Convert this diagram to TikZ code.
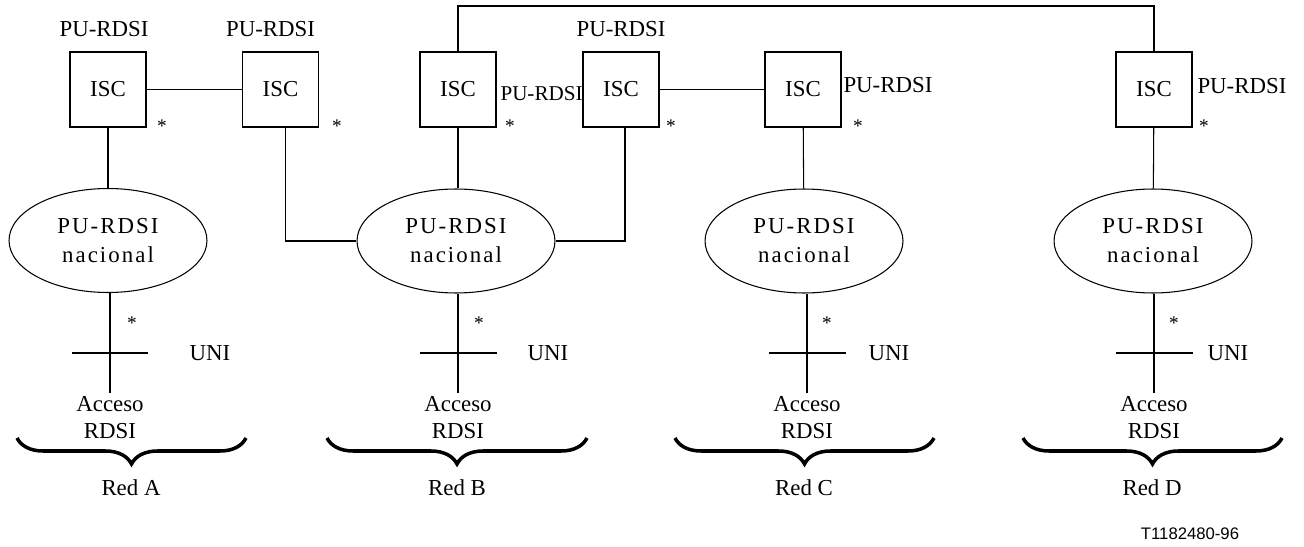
\documentclass[tikz,border=0pt]{standalone}
\usepackage{fontspec}
\setmainfont{Liberation Serif}
\newfontfamily\tagfont{Liberation Sans}
\usepackage{tikz}
\usetikzlibrary{positioning}
\usetikzlibrary{shapes.geometric}
\usetikzlibrary{decorations.pathreplacing}

\begin{document}
\begin{tikzpicture}[
		  x=0.02cm, y=-0.02cm,
		  every path/.style = {line width=0.6pt},
		  iscbox/.style = {draw, minimum width=1.52cm, minimum height=1.5cm, inner sep=0pt, font=\fontsize{13}{15}\selectfont},
		  nacnode/.style = {draw, ellipse, minimum width=3.96cm, minimum height=2.08cm, inner sep=0pt, align=center,
		    font=\fontsize{13}{16.5}\selectfont\addfontfeature{LetterSpace=9}},
		  lbl/.style = {inner sep=0pt, font=\fontsize{13}{15}\selectfont},
		  smalllbl/.style = {inner sep=0pt, font=\fontsize{12}{14}\selectfont},
		  ast/.style = {inner sep=0pt, font=\fontsize{11}{13}\selectfont},
		  acceso/.style = {inner sep=0pt, align=center, font=\fontsize{13}{15.3}\selectfont},
		  unibar/.style = {line width=1.3pt},
		  brc/.style = {line width=2pt, decorate, decoration={brace, mirror, amplitude=0.52cm}}
		]

		  \useasboundingbox (0,0) rectangle (1304,547);

		  \node[iscbox] (iscA) at (108,89.5) {ISC};
		  \node[iscbox] (iscAb) at (280.5,89.5) {ISC};
		  \node[iscbox] (iscB) at (458,89.5) {ISC};
		  \node[iscbox] (iscBb) at (621,89.5) {ISC};
		  \node[iscbox] (iscC) at (803,89.5) {ISC};
		  \node[iscbox] (iscD) at (1154,89.5) {ISC};

		  \node[lbl, above=8pt of iscA, xshift=-0.08cm] (puA) {PU-RDSI};
		  \node[lbl, above=8pt of iscAb, xshift=-0.2cm] (puAb) {PU-RDSI};
		  \node[lbl, above=8pt of iscBb] (puBb) {PU-RDSI};
		  \node[smalllbl, anchor=west] (puB) at (500,94) {PU-RDSI};
		  \node[lbl, anchor=west] (puC) at (843,85) {PU-RDSI};
		  \node[lbl, anchor=west] (puD) at (1197,86) {PU-RDSI};

		  \node[ast] (astA) at (162,126) {*};
		  \node[ast] (astAb) at (337,126) {*};
		  \node[ast] (astB) at (510,126) {*};
		  \node[ast] (astBb) at (671,126) {*};
		  \node[ast] (astC) at (858,126) {*};
		  \node[ast] (astD) at (1204,126) {*};

		  \node[nacnode] (natA) at (108,240.5) {PU-RDSI\\nacional};
		  \node[nacnode] (natB) at (456,241) {PU-RDSI\\nacional};
		  \node[nacnode] (natC) at (804,241) {PU-RDSI\\nacional};
		  \node[nacnode] (natD) at (1153,241) {PU-RDSI\\nacional};

		  \coordinate (top) at (800,6);
		  \draw (iscA) -- (iscAb);
		  \draw (iscBb) -- (iscC);
		  \draw (iscA) -- (natA);
		  \draw (iscB.south) -- (iscB.south |- natB.north);
		  \draw (iscC) -- (natC);
		  \draw (iscD) -- (natD);
		  \draw (natB) -| ([xshift=0.1cm]iscAb.south);
		  \draw (natB) -| ([xshift=0.08cm]iscBb.south);
		  \draw (iscB.north) |- (top) -| (iscD.north);

		  \coordinate (uniA) at (110,353);
		  \coordinate (uniB) at (458,353);
		  \coordinate (uniC) at (807,353);
		  \coordinate (uniD) at (1154,353);
		  \coordinate (endA) at (110,393);
		  \coordinate (endB) at (458,393);
		  \coordinate (endC) at (807,393);
		  \coordinate (endD) at (1154,393);

		  \draw (natA.south -| endA) -- (endA);
		  \draw (natB.south -| endB) -- (endB);
		  \draw (natC.south -| endC) -- (endC);
		  \draw (natD.south -| endD) -- (endD);
		  \draw[unibar] ([xshift=-0.77cm]uniA) -- ([xshift=0.77cm]uniA);
		  \draw[unibar] ([xshift=-0.77cm]uniB) -- ([xshift=0.77cm]uniB);
		  \draw[unibar] ([xshift=-0.77cm]uniC) -- ([xshift=0.77cm]uniC);
		  \draw[unibar] ([xshift=-0.77cm]uniD) -- ([xshift=0.77cm]uniD);

		  \node[ast] (astUA) at (132,323) {*};
		  \node[ast] (astUB) at (479,323) {*};
		  \node[ast] (astUC) at (827,323) {*};
		  \node[ast] (astUD) at (1174,323) {*};

		  \node[lbl] (uniTA) at (210,353) {UNI};
		  \node[lbl] (uniTB) at (548,353) {UNI};
		  \node[lbl] (uniTC) at (889,353) {UNI};
		  \node[lbl] (uniTD) at (1228,353) {UNI};

		  \node[acceso] (accA) at (110,418) {Acceso\\RDSI};
		  \node[acceso] (accB) at (458,418) {Acceso\\RDSI};
		  \node[acceso] (accC) at (807,418) {Acceso\\RDSI};
		  \node[acceso] (accD) at (1154,418) {Acceso\\RDSI};

		  \draw[brc] (17,438) -- (246,438);
		  \draw[brc] (327,438) -- (587,438);
		  \draw[brc] (675,438) -- (934,438);
		  \draw[brc] (1023,438) -- (1282,438);

		  \node[lbl] (redA) at (131,488) {Red A};
		  \node[lbl] (redB) at (457,488) {Red B};
		  \node[lbl] (redC) at (804,488) {Red C};
		  \node[lbl] (redD) at (1152,488) {Red D};

		  \node[inner sep=0pt, font=\fontsize{9.5}{11}\tagfont] (tag) at (1190,534) {T1182480-96};
		\end{tikzpicture}
\end{document}
